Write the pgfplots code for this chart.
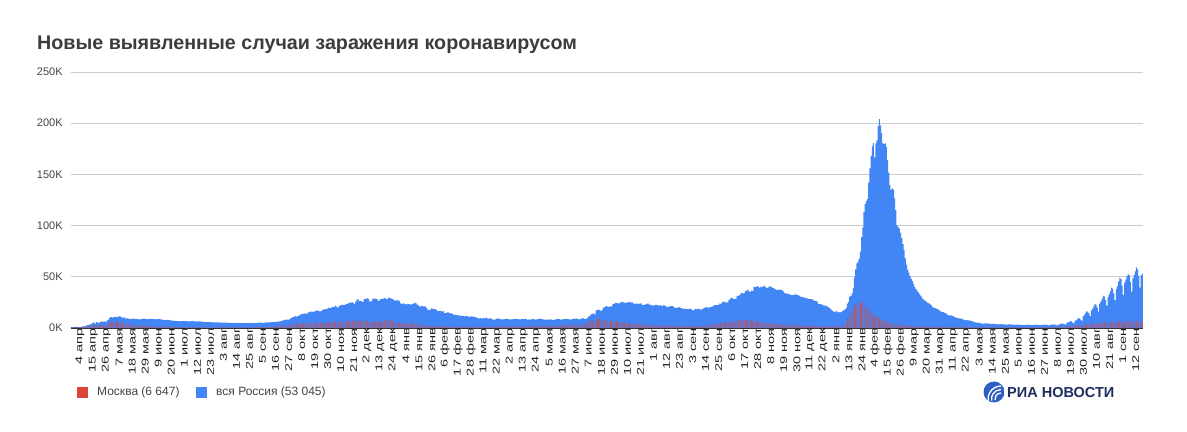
\documentclass[border=0pt]{standalone}
\usepackage{graphicx}
\usepackage{pgfplots}
\pgfplotsset{compat=1.18}
\usepackage{pgfplotstable}
\usepackage{fontspec}
\setmainfont{Liberation Sans}
\definecolor{rublue}{HTML}{4285F4}
\definecolor{mored}{HTML}{DB4437}
\definecolor{gridc}{HTML}{CCCCCC}
\definecolor{axisc}{HTML}{333333}
\definecolor{titlec}{HTML}{3C3C3C}
\definecolor{labc}{HTML}{444444}
\definecolor{xlabc}{HTML}{222222}
\definecolor{riablue}{HTML}{2F5FC4}
\definecolor{rianavy}{HTML}{1E2D5C}
\newcommand{\sq}[1]{\scalebox{1}[0.68]{#1}}

% Russia, daily new cases (thousands), 31 Mar 2020 - 21 Sep 2022
\pgfplotstableread[row sep=\\,header=false]{
0.50\\
0.77\\0.77\\0.60\\0.58\\0.66\\0.95\\1.15\\1.18\\1.46\\1.79\\1.67\\2.19\\2.56\\2.77\\3.39\\3.45\\4.07\\4.79\\6.06\\4.27\\5.64\\5.24\\4.77\\5.85\\5.97\\6.36\\6.20\\6.41\\5.84\\7.10\\
7.93\\9.62\\10.63\\10.58\\10.10\\10.56\\11.23\\10.70\\10.82\\11.01\\11.66\\10.90\\10.03\\9.97\\10.60\\9.20\\9.71\\8.93\\9.26\\8.76\\8.85\\8.89\\9.43\\8.60\\8.95\\8.92\\8.34\\8.37\\8.57\\8.95\\9.27\\
9.04\\8.86\\8.54\\8.83\\8.73\\8.86\\8.98\\8.60\\8.60\\8.40\\8.78\\8.99\\8.71\\8.84\\8.25\\8.25\\7.84\\7.79\\7.97\\8.00\\7.89\\7.60\\7.43\\7.18\\7.11\\7.00\\6.85\\6.79\\6.72\\6.69\\
6.56\\6.76\\6.76\\6.73\\6.74\\6.61\\6.37\\6.56\\6.51\\6.63\\6.61\\6.62\\6.54\\6.25\\6.42\\6.43\\6.43\\6.40\\6.11\\6.10\\5.84\\5.86\\5.81\\5.85\\5.77\\5.76\\5.64\\5.40\\5.48\\5.51\\5.48\\
5.46\\5.43\\5.43\\5.16\\5.20\\5.24\\5.21\\5.24\\5.19\\5.10\\4.95\\5.10\\5.06\\5.06\\5.10\\5.06\\4.84\\4.75\\4.83\\4.89\\4.87\\4.92\\4.87\\4.68\\4.68\\4.74\\4.68\\4.76\\4.89\\4.98\\4.73\\
4.73\\4.73\\4.95\\5.00\\5.20\\5.20\\5.20\\5.10\\5.10\\5.36\\5.30\\5.45\\5.40\\5.45\\5.40\\5.67\\5.76\\5.90\\6.07\\6.07\\6.20\\6.20\\6.40\\6.60\\7.20\\7.50\\7.87\\8.14\\8.13\\8.23\\
8.48\\9.41\\9.86\\10.50\\10.90\\11.60\\11.10\\11.50\\12.10\\12.80\\13.60\\13.60\\13.90\\14.20\\13.75\\14.30\\15.20\\15.70\\15.98\\15.98\\15.70\\15.97\\16.50\\17.30\\17.00\\16.60\\16.20\\16.55\\17.70\\18.30\\18.10\\
18.70\\18.70\\19.80\\19.40\\19.40\\20.60\\20.50\\20.60\\21.80\\20.98\\19.85\\21.60\\21.98\\22.70\\22.60\\22.40\\22.80\\23.60\\23.60\\24.30\\24.60\\24.80\\25.20\\24.30\\23.20\\25.50\\27.50\\28.10\\26.30\\26.30\\
26.40\\25.30\\28.10\\28.10\\28.80\\29.00\\28.10\\26.10\\26.10\\27.90\\28.60\\28.60\\28.60\\28.10\\26.70\\27.00\\28.20\\28.20\\28.60\\29.00\\29.30\\28.10\\28.50\\29.90\\29.20\\29.00\\28.30\\28.00\\26.70\\27.00\\27.00\\
27.04\\26.30\\24.15\\23.35\\24.25\\23.54\\23.65\\23.00\\23.50\\23.31\\22.85\\23.00\\23.40\\24.09\\24.72\\24.06\\22.86\\22.00\\21.13\\21.15\\21.73\\21.23\\21.00\\21.13\\19.29\\17.74\\17.65\\17.91\\19.22\\19.03\\18.36\\
18.50\\17.65\\16.71\\16.64\\16.69\\16.62\\15.93\\16.55\\14.49\\14.61\\15.03\\15.47\\14.55\\14.19\\14.20\\13.43\\12.83\\12.95\\12.69\\12.37\\12.60\\11.53\\12.05\\11.82\\11.75\\11.40\\11.53\\11.57\\
11.47\\10.67\\11.41\\11.39\\10.96\\11.02\\10.53\\10.03\\10.00\\9.15\\9.79\\9.43\\9.42\\9.76\\9.51\\10.26\\9.28\\9.24\\9.28\\9.51\\8.75\\8.30\\8.23\\8.45\\9.06\\9.11\\9.11\\8.63\\8.49\\8.36\\8.33\\
8.80\\9.00\\9.01\\8.64\\8.29\\8.33\\8.34\\8.56\\8.81\\8.81\\8.73\\8.65\\8.33\\8.33\\8.55\\8.70\\8.80\\8.71\\8.66\\8.05\\8.27\\8.42\\8.29\\8.70\\8.60\\8.47\\8.28\\8.38\\8.66\\8.91\\
9.07\\8.65\\8.50\\8.41\\8.00\\8.25\\8.12\\8.25\\8.43\\8.32\\7.82\\7.77\\8.22\\8.33\\8.82\\8.79\\8.55\\8.25\\8.40\\8.33\\8.63\\8.78\\8.95\\8.56\\8.60\\8.19\\8.37\\8.95\\9.18\\8.95\\9.29\\
8.86\\8.59\\8.32\\8.95\\9.29\\9.70\\8.80\\8.93\\9.14\\10.41\\11.70\\11.99\\13.51\\13.72\\14.19\\13.40\\17.26\\17.61\\17.91\\17.38\\16.72\\17.59\\20.18\\20.18\\21.04\\21.67\\20.54\\20.54\\21.04\\21.04\\
23.54\\23.22\\24.44\\24.35\\24.35\\23.78\\24.76\\25.14\\25.77\\25.13\\24.89\\24.70\\24.43\\25.29\\25.29\\25.02\\24.86\\25.02\\23.56\\23.77\\23.77\\23.77\\23.61\\23.95\\24.07\\22.59\\22.49\\22.93\\23.17\\23.81\\23.73\\
22.59\\22.82\\22.08\\21.86\\22.21\\22.49\\22.51\\22.59\\21.65\\22.38\\21.93\\21.66\\22.30\\22.15\\21.20\\20.38\\20.69\\21.06\\21.31\\21.40\\21.10\\20.26\\19.68\\19.52\\20.11\\20.42\\19.68\\19.50\\18.86\\18.64\\18.85\\
18.38\\18.34\\18.40\\18.98\\18.65\\17.86\\17.26\\17.90\\18.33\\18.77\\18.53\\18.91\\17.84\\18.28\\18.98\\19.59\\19.90\\20.33\\20.17\\19.59\\20.33\\20.61\\21.10\\21.56\\22.24\\22.24\\22.31\\22.43\\23.89\\23.47\\
24.52\\25.78\\25.76\\25.11\\25.13\\25.13\\27.25\\28.61\\29.36\\29.41\\28.19\\28.19\\28.72\\31.30\\31.30\\32.20\\33.74\\34.30\\33.74\\34.07\\36.34\\36.45\\37.68\\35.66\\35.33\\36.58\\36.10\\40.10\\39.85\\40.25\\40.99\\
40.40\\39.40\\40.13\\40.21\\40.74\\41.34\\39.85\\39.16\\39.40\\40.76\\40.45\\40.13\\39.04\\38.82\\37.93\\37.12\\37.16\\37.37\\37.16\\37.37\\36.97\\35.68\\34.32\\33.86\\33.56\\33.56\\32.93\\32.60\\32.14\\32.14\\
32.14\\33.39\\32.54\\32.18\\31.95\\30.79\\30.40\\30.32\\29.93\\29.42\\29.63\\28.95\\28.49\\28.39\\28.12\\28.14\\27.43\\26.76\\26.49\\26.14\\25.04\\23.24\\23.24\\22.99\\22.80\\22.12\\21.92\\21.84\\21.18\\20.60\\19.53\\
18.59\\17.20\\16.51\\15.56\\15.89\\16.73\\15.23\\15.45\\15.21\\15.83\\16.57\\17.53\\18.12\\19.57\\23.87\\25.63\\30.72\\31.25\\33.90\\38.92\\49.51\\57.21\\63.21\\65.11\\67.81\\74.69\\88.82\\98.04\\113.12\\121.23\\124.07\\
125.84\\141.88\\155.77\\168.20\\177.28\\180.46\\166.63\\180.07\\183.10\\197.08\\203.95\\197.89\\190.41\\180.62\\179.67\\180.32\\176.82\\164.00\\151.62\\139.84\\135.03\\136.43\\135.04\\126.66\\115.23\\100.43\\98.31\\97.01\\
93.0\\88.0\\82.0\\76.0\\68.0\\62.0\\57.0\\54.0\\51.0\\48.0\\46.0\\43.0\\40.0\\38.0\\36.5\\35.0\\33.0\\31.5\\30.0\\28.5\\27.0\\26.5\\25.5\\24.5\\24.0\\23.0\\22.0\\20.5\\20.0\\19.5\\19.0\\
18.5\\17.9\\17.0\\16.2\\15.5\\15.4\\15.0\\14.6\\13.8\\12.6\\12.1\\12.4\\12.3\\11.9\\11.2\\10.6\\10.0\\9.6\\9.4\\9.5\\9.1\\8.8\\8.3\\7.8\\7.5\\7.7\\7.6\\7.3\\7.1\\6.7\\
6.4\\5.9\\5.4\\5.3\\5.2\\5.0\\4.9\\4.6\\4.3\\4.2\\4.5\\4.5\\4.4\\4.3\\4.2\\3.9\\4.0\\4.0\\3.9\\3.8\\3.7\\3.6\\3.5\\3.8\\3.6\\3.7\\3.6\\3.5\\3.4\\3.4\\3.6\\
3.6\\3.5\\3.4\\3.3\\3.2\\3.1\\3.3\\3.2\\3.2\\3.1\\3.1\\3.0\\2.9\\3.1\\3.2\\3.2\\3.1\\3.0\\3.1\\2.9\\3.0\\3.2\\3.2\\3.1\\3.0\\2.9\\2.8\\3.1\\3.1\\3.1\\
3.3\\3.2\\2.9\\2.5\\3.0\\3.1\\3.3\\3.5\\3.4\\3.0\\2.6\\3.3\\3.5\\3.8\\4.4\\4.3\\3.8\\3.2\\4.6\\5.2\\5.8\\6.6\\6.4\\5.6\\4.6\\6.8\\7.6\\8.5\\9.6\\9.5\\8.2\\
7.3\\11.6\\13.0\\14.6\\16.3\\16.0\\14.2\\11.5\\17.1\\19.0\\21.0\\23.2\\22.6\\20.0\\16.0\\23.8\\26.1\\28.6\\31.6\\31.0\\27.3\\21.8\\30.5\\33.2\\35.8\\39.4\\38.5\\33.8\\27.2\\38.0\\41.0\\
45.5\\49.3\\47.8\\41.5\\32.4\\44.4\\47.2\\50.3\\52.8\\51.5\\45.0\\35.6\\48.5\\51.9\\55.2\\59.2\\57.6\\50.6\\39.5\\51.4\\53.0\\
}\ru

% Moscow, daily new cases (thousands), same days
\pgfplotstableread[row sep=\\,header=false]{
0.37\\
0.45\\0.60\\0.43\\0.43\\0.52\\0.70\\0.70\\0.86\\1.12\\1.12\\1.03\\1.35\\1.31\\1.49\\1.49\\1.37\\1.96\\1.96\\3.57\\2.65\\2.92\\2.37\\2.22\\2.72\\3.08\\2.51\\2.74\\2.55\\2.22\\3.07\\
4.10\\5.36\\6.00\\5.95\\5.85\\6.70\\5.85\\5.67\\5.39\\5.55\\6.17\\5.39\\4.75\\4.53\\4.60\\3.51\\3.56\\3.24\\3.08\\3.19\\2.99\\2.91\\2.64\\2.57\\2.29\\2.33\\2.05\\2.14\\2.30\\2.32\\2.60\\
2.30\\2.19\\1.98\\1.84\\2.14\\2.00\\1.92\\1.57\\1.55\\1.49\\1.54\\1.57\\1.57\\1.58\\1.10\\1.06\\1.07\\1.00\\1.06\\1.06\\0.99\\0.92\\0.84\\0.84\\0.83\\0.80\\0.78\\0.81\\0.80\\0.78\\
0.67\\0.65\\0.68\\0.71\\0.71\\0.68\\0.63\\0.56\\0.58\\0.63\\0.62\\0.67\\0.67\\0.61\\0.63\\0.62\\0.61\\0.65\\0.63\\0.58\\0.56\\0.57\\0.59\\0.61\\0.63\\0.64\\0.62\\0.59\\0.62\\0.66\\0.68\\
0.69\\0.69\\0.68\\0.67\\0.69\\0.70\\0.71\\0.70\\0.70\\0.68\\0.67\\0.69\\0.69\\0.69\\0.70\\0.70\\0.68\\0.67\\0.69\\0.69\\0.69\\0.69\\0.69\\0.67\\0.66\\0.67\\0.67\\0.68\\0.68\\0.69\\0.71\\
0.72\\0.73\\0.76\\0.77\\0.78\\0.77\\0.77\\0.79\\0.78\\0.80\\0.82\\0.90\\0.94\\1.05\\1.06\\1.09\\1.19\\1.35\\1.50\\1.60\\1.65\\1.79\\1.85\\1.99\\2.05\\2.20\\2.30\\2.35\\2.40\\2.46\\
2.42\\2.69\\3.33\\3.54\\3.70\\3.23\\4.48\\4.78\\4.95\\4.08\\4.19\\4.57\\4.30\\4.45\\4.60\\4.52\\4.60\\4.61\\4.50\\4.61\\4.73\\4.48\\4.91\\5.04\\5.19\\4.99\\4.84\\4.92\\5.26\\5.26\\5.26\\
5.26\\5.25\\5.22\\5.90\\6.25\\6.25\\6.05\\6.15\\6.05\\5.20\\5.24\\5.76\\6.44\\6.16\\6.23\\6.06\\5.99\\6.44\\6.44\\6.44\\6.90\\7.17\\7.17\\7.04\\6.90\\6.97\\7.17\\7.17\\7.02\\6.43\\
7.06\\6.62\\7.17\\6.68\\7.16\\6.90\\6.17\\5.96\\6.23\\6.23\\6.36\\6.36\\6.25\\6.43\\5.69\\5.99\\6.18\\6.10\\6.60\\7.05\\7.55\\7.23\\7.44\\8.20\\7.77\\7.70\\7.13\\6.07\\5.86\\5.24\\5.13\\
5.16\\5.30\\4.40\\4.74\\5.03\\5.26\\4.93\\4.26\\4.73\\4.48\\4.20\\3.80\\4.06\\4.67\\4.39\\3.91\\3.39\\3.07\\3.10\\2.90\\2.80\\2.86\\2.59\\2.20\\2.11\\1.87\\1.80\\1.91\\1.94\\2.10\\2.08\\
1.96\\1.80\\1.82\\1.95\\1.87\\1.89\\1.70\\1.80\\1.68\\1.71\\1.73\\1.68\\1.51\\1.43\\1.40\\1.41\\1.30\\1.35\\1.29\\1.30\\1.35\\1.29\\1.28\\1.30\\1.26\\1.32\\1.26\\1.29\\
1.23\\1.17\\1.31\\1.27\\1.30\\1.28\\1.25\\1.04\\1.13\\1.03\\1.08\\1.12\\1.16\\1.19\\1.14\\1.17\\1.17\\1.18\\1.25\\1.29\\1.30\\1.38\\1.33\\1.40\\1.63\\1.71\\1.83\\1.76\\1.70\\1.65\\1.73\\
1.82\\1.84\\1.73\\1.63\\1.49\\1.49\\1.60\\1.74\\1.80\\1.72\\1.67\\1.58\\1.50\\1.54\\1.67\\1.69\\1.67\\1.59\\1.61\\1.38\\1.49\\1.56\\1.71\\1.98\\1.92\\1.83\\1.73\\1.82\\2.00\\2.34\\
2.30\\2.14\\1.95\\1.88\\1.80\\1.80\\1.97\\2.06\\2.02\\1.95\\1.73\\1.76\\1.96\\2.18\\2.38\\2.43\\2.36\\2.37\\2.54\\2.58\\2.71\\2.93\\2.90\\2.80\\2.77\\2.77\\2.93\\3.03\\3.14\\3.08\\2.90\\
2.99\\2.79\\3.03\\3.26\\3.71\\3.69\\3.68\\3.60\\4.63\\5.60\\6.70\\6.96\\7.70\\6.20\\6.60\\6.15\\8.60\\9.06\\9.12\\8.60\\7.90\\7.00\\7.55\\6.70\\7.35\\7.90\\6.90\\6.42\\6.41\\6.56\\
6.45\\6.72\\6.74\\6.60\\6.18\\5.88\\5.60\\5.55\\5.38\\5.25\\5.05\\4.88\\4.71\\4.52\\4.78\\4.60\\4.40\\4.25\\4.10\\3.90\\3.70\\3.71\\3.62\\3.40\\3.44\\3.30\\3.23\\3.20\\3.10\\3.10\\3.05\\
2.96\\2.87\\2.81\\2.73\\2.68\\2.66\\2.63\\2.60\\2.55\\2.50\\2.41\\2.41\\2.36\\2.30\\2.23\\2.16\\2.16\\2.13\\2.12\\2.06\\2.00\\1.96\\1.97\\1.96\\1.91\\1.91\\1.90\\1.87\\1.88\\1.87\\1.85\\
1.83\\1.83\\1.85\\1.82\\1.80\\1.80\\1.77\\1.80\\1.82\\1.85\\1.87\\1.95\\1.97\\2.00\\2.16\\2.27\\2.40\\2.55\\2.70\\2.82\\2.95\\3.10\\3.28\\3.45\\3.55\\3.78\\3.95\\4.20\\4.30\\4.44\\
5.24\\5.36\\5.40\\5.20\\5.29\\5.30\\5.40\\5.44\\6.10\\6.20\\6.44\\6.50\\6.60\\6.95\\7.22\\7.40\\7.90\\7.50\\7.85\\7.95\\8.10\\8.10\\8.10\\7.70\\7.20\\7.10\\6.50\\6.50\\6.60\\6.60\\6.20\\
5.90\\5.70\\5.50\\5.30\\5.20\\5.20\\5.00\\4.90\\4.80\\4.70\\4.60\\4.40\\4.20\\4.10\\3.90\\3.80\\3.70\\3.60\\3.50\\3.50\\3.40\\3.30\\3.20\\3.10\\3.10\\3.00\\3.00\\2.90\\2.90\\2.90\\
2.90\\2.90\\2.80\\2.70\\2.60\\2.50\\2.40\\2.40\\2.30\\2.30\\2.20\\2.20\\2.10\\2.10\\2.10\\2.00\\2.00\\1.90\\1.90\\1.90\\1.90\\1.90\\1.80\\1.80\\1.80\\1.80\\1.70\\1.70\\1.70\\1.80\\1.80\\
1.80\\1.70\\1.60\\1.50\\1.60\\1.80\\1.60\\1.70\\1.80\\2.10\\2.60\\3.20\\4.10\\5.20\\8.40\\9.00\\12.80\\13.10\\17.40\\20.00\\21.70\\23.00\\21.90\\21.20\\23.40\\24.50\\26.70\\25.80\\23.60\\20.00\\19.50\\
19.00\\18.00\\17.20\\15.60\\13.50\\12.30\\10.30\\11.80\\11.60\\10.60\\10.00\\9.10\\7.80\\6.80\\6.90\\6.80\\6.30\\5.70\\5.20\\4.40\\3.90\\4.10\\4.00\\3.80\\3.40\\3.00\\2.90\\2.90\\
2.80\\2.80\\2.70\\2.60\\2.50\\2.40\\2.20\\2.10\\2.10\\2.10\\2.00\\1.90\\1.80\\1.80\\1.80\\1.70\\1.70\\1.60\\1.60\\1.50\\1.50\\1.50\\1.50\\1.40\\1.40\\1.30\\1.30\\1.30\\1.30\\1.20\\1.20\\
1.20\\1.20\\1.10\\1.10\\1.10\\1.10\\1.00\\1.00\\1.00\\0.95\\0.95\\0.95\\0.90\\0.90\\0.90\\0.85\\0.85\\0.85\\0.80\\0.80\\0.80\\0.80\\0.75\\0.75\\0.75\\0.75\\0.70\\0.70\\0.70\\0.70\\
0.70\\0.65\\0.65\\0.60\\0.60\\0.60\\0.60\\0.55\\0.55\\0.55\\0.55\\0.55\\0.55\\0.50\\0.50\\0.50\\0.50\\0.50\\0.50\\0.50\\0.50\\0.50\\0.50\\0.50\\0.50\\0.50\\0.50\\0.50\\0.50\\0.50\\0.50\\
0.50\\0.50\\0.50\\0.50\\0.50\\0.45\\0.50\\0.50\\0.50\\0.50\\0.50\\0.50\\0.45\\0.50\\0.50\\0.50\\0.50\\0.50\\0.50\\0.50\\0.50\\0.50\\0.55\\0.55\\0.55\\0.55\\0.55\\0.55\\0.60\\0.60\\
0.65\\0.65\\0.60\\0.55\\0.65\\0.70\\0.75\\0.80\\0.80\\0.70\\0.60\\0.80\\0.90\\1.00\\1.10\\1.10\\1.00\\0.90\\1.30\\1.50\\1.70\\1.90\\1.90\\1.70\\1.40\\2.10\\2.40\\2.60\\2.90\\2.90\\2.50\\
2.00\\3.00\\3.30\\3.50\\3.80\\3.70\\3.30\\2.60\\3.70\\4.00\\4.30\\4.60\\4.50\\4.00\\3.30\\4.70\\5.00\\5.40\\5.80\\5.60\\5.00\\4.00\\5.50\\5.80\\6.10\\6.50\\6.30\\5.60\\4.40\\5.90\\6.20\\
6.40\\6.80\\6.60\\5.80\\4.50\\6.00\\6.30\\6.60\\6.90\\6.70\\5.90\\4.70\\6.20\\6.50\\6.90\\7.30\\7.00\\6.20\\4.90\\6.30\\6.65\\
}\mo

\begin{document}
\begin{tikzpicture}
\useasboundingbox (0,0) rectangle (1187bp,432bp);
\begin{axis}[
  at={(70.8bp,104bp)}, anchor=south west, scale only axis,
  width=1072.2bp, height=256bp,
  xmin=-4.5, xmax=900.5, ymin=0, ymax=250,
  axis x line*=bottom, axis y line*=left,
  x axis line style={draw=axisc, line width=1.5bp, -},
  y axis line style={draw=none},
  xtick={0,11,...,891},
  xticklabels={\sq{4 апр},\sq{15 апр},\sq{26 апр},\sq{7 мая},\sq{18 мая},\sq{29 мая},\sq{9 июн},\sq{20 июн},\sq{1 июл},\sq{12 июл},\sq{23 июл},\sq{3 авг},\sq{14 авг},\sq{25 авг},\sq{5 сен},\sq{16 сен},\sq{27 сен},\sq{8 окт},\sq{19 окт},\sq{30 окт},\sq{10 ноя},\sq{21 ноя},\sq{2 дек},\sq{13 дек},\sq{24 дек},\sq{4 янв},\sq{15 янв},\sq{26 янв},\sq{6 фев},\sq{17 фев},\sq{28 фев},\sq{11 мар},\sq{22 мар},\sq{2 апр},\sq{13 апр},\sq{24 апр},\sq{5 мая},\sq{16 мая},\sq{27 мая},\sq{7 июн},\sq{18 июн},\sq{29 июн},\sq{10 июл},\sq{21 июл},\sq{1 авг},\sq{12 авг},\sq{23 авг},\sq{3 сен},\sq{14 сен},\sq{25 сен},\sq{6 окт},\sq{17 окт},\sq{28 окт},\sq{8 ноя},\sq{19 ноя},\sq{30 ноя},\sq{11 дек},\sq{22 дек},\sq{2 янв},\sq{13 янв},\sq{24 янв},\sq{4 фев},\sq{15 фев},\sq{26 фев},\sq{9 мар},\sq{20 мар},\sq{31 мар},\sq{11 апр},\sq{22 апр},\sq{3 мая},\sq{14 мая},\sq{25 мая},\sq{5 июн},\sq{16 июн},\sq{27 июн},\sq{8 июл},\sq{19 июл},\sq{30 июл},\sq{10 авг},\sq{21 авг},\sq{1 сен},\sq{12 сен}},
  ytick={0,50,100,150,200,250},
  yticklabels={0K,50K,100K,150K,200K,250K},
  ymajorgrids, grid style={draw=gridc, line width=0.9bp},
  major tick length=0pt,
  xticklabel style={font=\fontsize{14.5bp}{16bp}\selectfont, text=xlabc, rotate=90, anchor=east, inner sep=0pt, yshift=-4bp},
  yticklabel style={font=\fontsize{11bp}{13bp}\selectfont, text=labc, anchor=east, inner sep=0pt, xshift=-8bp},
]
\addplot[ybar, bar width=0.82, bar shift=0, fill=rublue, draw=none] table[x expr=\coordindex-4, y index=0]{\ru};
\addplot[ybar, bar width=0.3, bar shift=0, fill=mored, draw=none] table[x expr=\coordindex-4, y index=0]{\mo};
\end{axis}
\node[anchor=base west, inner sep=0pt, font=\fontsize{19.7bp}{24bp}\selectfont\bfseries, text=titlec] at (37bp,382bp) {Новые выявленные случаи заражения коронавирусом};
\fill[mored] (77bp,34bp) rectangle (88bp,45bp);
\node[anchor=west, inner sep=0pt, font=\fontsize{12bp}{14bp}\selectfont, text=labc] at (97bp,39.5bp) {Москва (6 647)};
\fill[rublue] (196bp,34bp) rectangle (207bp,45bp);
\node[anchor=west, inner sep=0pt, font=\fontsize{12bp}{14bp}\selectfont, text=labc] at (216bp,39.5bp) {вся Россия (53 045)};
\begin{scope}
\clip (994bp,40bp) circle (10.5bp);
\fill[riablue] (994bp,40bp) circle (10.5bp);
\foreach \r in {6,9.5,13} {\draw[white, line width=1.3bp] (1001bp,33bp) ++(90:\r bp) arc (90:190:\r bp);}
\end{scope}
\node[anchor=west, inner sep=0pt, font=\fontsize{14.5bp}{16bp}\selectfont\bfseries, text=rianavy] at (1007bp,39bp) {РИА НОВОСТИ};
\end{tikzpicture}
\end{document}
